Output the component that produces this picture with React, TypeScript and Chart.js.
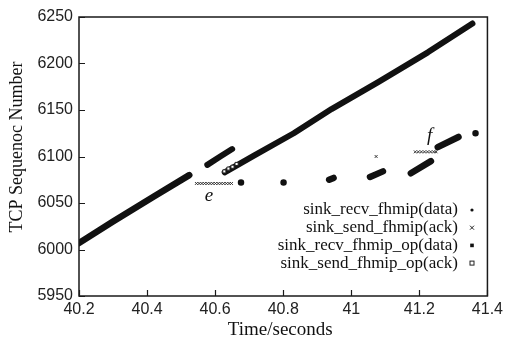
import React, { useEffect, useRef } from "react";
import { Chart, registerables } from "chart.js";

Chart.register(...registerables);

// ---- axis ticks ----
const xTickValues = [40.2, 40.4, 40.6, 40.8, 41.0, 41.2, 41.4];
const yTickValues = [5950, 6000, 6050, 6100, 6150, 6200, 6250];

// ---- series (null = break between separate runs of packets) ----
const recvFhmipTime = [40.2, 40.3, 40.42, 40.524, null, 40.676, null, 40.801, null, 40.935, 40.948, null, 41.055, 41.093, null, 41.175, 41.234, null, 41.254, 41.315, null, 41.365];
const recvFhmipSeq = [6007, 6030, 6057, 6080, null, 6072, null, 6072, null, 6075, 6077, null, 6078, 6084, null, 6082, 6095, null, 6110, 6121, null, 6125];

const sendFhmipTime = [40.545, 40.553, 40.561, 40.569, 40.577, 40.585, 40.593, 40.601, 40.609, 40.617, 40.625, 40.633, 40.641, 40.648, 41.073, 41.188, 41.197, 41.206, 41.215, 41.224, 41.233, 41.242, 41.249];
const sendFhmipSeq = [6071, 6071, 6071, 6071, 6071, 6071, 6071, 6071, 6071, 6071, 6071, 6071, 6071, 6071, 6100, 6105, 6105, 6105, 6105, 6105, 6105, 6105, 6105];

const recvFhmipOpTime = [40.577, 40.615, 40.65, null, 40.628, 40.714, 40.831, 40.942, 41.079, 41.225, 41.356];
const recvFhmipOpSeq = [6091, 6100, 6108, null, 6083, 6101, 6125, 6151, 6180, 6212, 6243];

const sendFhmipOpTime = [40.627, 40.639, 40.651, 40.663];
const sendFhmipOpSeq = [6084, 6087, 6089, 6092];

const seriesLabels = [
  "sink_recv_fhmip(data)",
  "sink_send_fhmip(ack)",
  "sink_recv_fhmip_op(data)",
  "sink_send_fhmip_op(ack)",
];

// ---- text annotations ----
const noteLabels = ["e", "f"];
const noteTime = [40.582, 41.23];
const noteSeq = [6058, 6122];

function toPoints(times: (number | null)[], seqs: (number | null)[]) {
  return times.map((t, i) =>
    t === null || seqs[i] === null ? { x: NaN, y: null } : { x: t, y: seqs[i] }
  );
}

function isIsolated(times: (number | null)[], i: number) {
  const prev = i > 0 ? times[i - 1] : null;
  const next = i < times.length - 1 ? times[i + 1] : null;
  return prev === null && next === null;
}

const INK = "#111111";

const decorPlugin = {
  id: "decor",
  afterDatasetsDraw(chart: any) {
    const { ctx, chartArea, scales } = chart;
    const { left, right, top, bottom } = chartArea;
    const x = scales.x;
    const y = scales.y;
    ctx.save();
    // frame
    ctx.strokeStyle = "#1a1a1a";
    ctx.lineWidth = 1.5;
    ctx.strokeRect(left, top, right - left, bottom - top);
    // inward ticks
    ctx.lineWidth = 1.2;
    ctx.beginPath();
    xTickValues.forEach((v) => {
      const px = Math.round(x.getPixelForValue(v)) + 0.5;
      ctx.moveTo(px, bottom);
      ctx.lineTo(px, bottom - 6);
    });
    yTickValues.forEach((v) => {
      const py = Math.round(y.getPixelForValue(v)) + 0.5;
      ctx.moveTo(left, py);
      ctx.lineTo(left + 6, py);
    });
    ctx.stroke();

    // annotations
    ctx.fillStyle = INK;
    ctx.font = "italic 19px 'Liberation Serif', serif";
    ctx.textAlign = "center";
    ctx.textBaseline = "middle";
    noteLabels.forEach((lab, i) => {
      ctx.fillText(lab, x.getPixelForValue(noteTime[i]), y.getPixelForValue(noteSeq[i]));
    });

    // legend
    ctx.font = "17px 'Liberation Serif', serif";
    ctx.textAlign = "right";
    ctx.textBaseline = "middle";
    const textRight = 458;
    const markX = 472;
    seriesLabels.forEach((lab, i) => {
      const cy = 210 + i * 17.7;
      ctx.fillStyle = INK;
      ctx.fillText(lab, textRight, cy);
      ctx.strokeStyle = "#222";
      ctx.lineWidth = 1;
      if (i === 0) {
        ctx.beginPath();
        ctx.arc(markX, cy, 1.6, 0, Math.PI * 2);
        ctx.fill();
      } else if (i === 1) {
        ctx.beginPath();
        ctx.moveTo(markX - 2, cy - 2);
        ctx.lineTo(markX + 2, cy + 2);
        ctx.moveTo(markX + 2, cy - 2);
        ctx.lineTo(markX - 2, cy + 2);
        ctx.stroke();
      } else if (i === 2) {
        ctx.fillRect(markX - 1.8, cy - 1.8, 3.6, 3.6);
      } else {
        ctx.strokeRect(markX - 2, cy - 2, 4, 4);
      }
    });

    // axis titles
    ctx.fillStyle = INK;
    ctx.font = "19px 'Liberation Serif', serif";
    ctx.textAlign = "center";
    ctx.textBaseline = "alphabetic";
    ctx.fillText("Time/seconds", (left + right) / 2 - 3, 335);

    ctx.font = "18px 'Liberation Serif', serif";
    ctx.translate(22, 147);
    ctx.rotate(-Math.PI / 2);
    ctx.fillText("TCP Sequenoc Number", 0, 0);
    ctx.restore();
  },
};

export default function App() {
  const canvasRef = useRef<HTMLCanvasElement | null>(null);

  useEffect(() => {
    const canvas = canvasRef.current;
    if (!canvas) return;
    const chart = new Chart(canvas, {
      type: "scatter",
      data: {
        datasets: [
          {
            label: seriesLabels[0],
            data: toPoints(recvFhmipTime, recvFhmipSeq),
            showLine: true,
            spanGaps: false,
            borderColor: INK,
            backgroundColor: INK,
            borderWidth: 6.5,
            borderCapStyle: "round",
            pointRadius: (c: any) => (isIsolated(recvFhmipTime, c.dataIndex) ? 2.4 : 0),
            pointBorderWidth: 0,
            order: 2,
          },
          {
            label: seriesLabels[1],
            data: toPoints(sendFhmipTime, sendFhmipSeq),
            showLine: false,
            pointStyle: "crossRot",
            pointRadius: 2,
            borderColor: "#333",
            borderWidth: 1,
            order: 1,
          },
          {
            label: seriesLabels[2],
            data: toPoints(recvFhmipOpTime, recvFhmipOpSeq),
            showLine: true,
            spanGaps: false,
            borderColor: INK,
            backgroundColor: INK,
            borderWidth: 6,
            borderCapStyle: "round",
            borderJoinStyle: "round",
            pointRadius: 0,
            order: 3,
          },
          {
            label: seriesLabels[3],
            data: toPoints(sendFhmipOpTime, sendFhmipOpSeq),
            showLine: false,
            pointStyle: "rect",
            pointRadius: 2.2,
            backgroundColor: "#ffffff",
            borderColor: "#222",
            borderWidth: 1,
            order: 0,
          },
        ] as any,
      },
      options: {
        animation: false,
        responsive: true,
        maintainAspectRatio: false,
        layout: { padding: { top: 17, right: 18, left: 0, bottom: 0 } },
        plugins: {
          legend: { display: false },
          tooltip: { enabled: false },
        },
        scales: {
          x: {
            type: "linear",
            min: 40.2,
            max: 41.4,
            afterBuildTicks: (s: any) => {
              s.ticks = xTickValues.map((v) => ({ value: v }));
            },
            afterFit: (s: any) => {
              s.height = 41;
            },
            grid: { display: false, drawTicks: false },
            border: { display: false },
            ticks: {
              padding: 4,
              color: "#222",
              font: { family: "'Liberation Sans', Arial, sans-serif", size: 16 },
              maxRotation: 0,
              autoSkip: false,
              callback: (v: any) => String(Math.round(Number(v) * 10) / 10),
            },
          },
          y: {
            type: "linear",
            min: 5950,
            max: 6250,
            afterBuildTicks: (s: any) => {
              s.ticks = yTickValues.map((v) => ({ value: v }));
            },
            afterFit: (s: any) => {
              s.width = 79;
            },
            grid: { display: false, drawTicks: false },
            border: { display: false },
            ticks: {
              padding: 6,
              color: "#222",
              font: { family: "'Liberation Sans', Arial, sans-serif", size: 16 },
              autoSkip: false,
              callback: (v: any) => String(Math.round(Number(v))),
            },
          },
        },
      } as any,
      plugins: [decorPlugin as any],
    });
    return () => chart.destroy();
  }, []);

  return (
    <div style={{ position: "fixed", left: 0, top: 0, width: 507, height: 337, background: "#fff" }}>
      <canvas ref={canvasRef} />
    </div>
  );
}
